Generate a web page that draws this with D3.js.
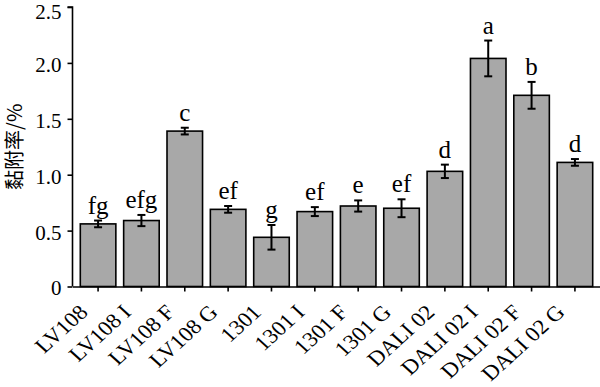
<!DOCTYPE html>
<html lang="zh">
<head>
<meta charset="UTF-8">
<title>黏附率</title>
<script src="https://d3js.org/d3.v7.min.js"></script>
<style>
    body { margin: 0; background: #fff; }
    svg { display: block; }
    .axis path, .axis line { stroke: #000; stroke-width: 1.6; }
    .serif { font-family: "Liberation Serif", "DejaVu Serif", serif; fill: #000; }
</style>
</head>
<body>
<svg width="600" height="387"></svg>
<script>
    // 数据
    const strains = ["LV108", "LV108 I", "LV108 F", "LV108 G", "1301", "1301 I", "1301 F", "1301 G",
                     "DALI 02", "DALI 02 I", "DALI 02 F", "DALI 02 G"];
    const rates = [0.56, 0.59, 1.39, 0.69, 0.44, 0.67, 0.72, 0.70, 1.03, 2.04, 1.71, 1.11];
    const errs = [0.03, 0.05, 0.03, 0.03, 0.11, 0.04, 0.05, 0.08, 0.06, 0.16, 0.12, 0.03];
    const groups = ["fg", "efg", "c", "ef", "g", "ef", "e", "ef", "d", "a", "b", "d"];
    const yTicks = [0, 0.5, 1.0, 1.5, 2.0, 2.5];

    const svg = d3.select("svg");
    const mLeft = 72.5, mRight = 600.5, mTop = 7, mBottom = 286.5;

    const x = d3.scaleBand().domain(strains).range([mLeft, mRight]).padding(0.18);
    const y = d3.scaleLinear().domain([0, 2.5]).range([mBottom, mTop]);

    // 柱子
    svg.append("g").selectAll("rect")
        .data(strains)
        .join("rect")
        .attr("x", d => x(d))
        .attr("width", x.bandwidth())
        .attr("y", (d, i) => y(rates[i]))
        .attr("height", (d, i) => y(0) - y(rates[i]))
        .attr("fill", "#a8a8a8")
        .attr("stroke", "#000")
        .attr("stroke-width", 1.6);

    // 误差线
    const eb = svg.append("g").attr("stroke", "#000").attr("stroke-width", 2);
    strains.forEach((d, i) => {
        const cx = x(d) + x.bandwidth() / 2;
        const y1 = y(rates[i] + errs[i]), y2 = y(rates[i] - errs[i]);
        eb.append("line").attr("x1", cx).attr("x2", cx).attr("y1", y1).attr("y2", y2);
        eb.append("line").attr("x1", cx - 4).attr("x2", cx + 4).attr("y1", y1).attr("y2", y1);
        eb.append("line").attr("x1", cx - 4).attr("x2", cx + 4).attr("y1", y2).attr("y2", y2);
    });

    // 显著性字母
    svg.append("g").selectAll("text")
        .data(strains)
        .join("text")
        .attr("class", "serif")
        .attr("x", d => x(d) + x.bandwidth() / 2)
        .attr("y", (d, i) => y(rates[i] + errs[i]) - 7)
        .attr("text-anchor", "middle")
        .style("font-size", "25px")
        .text((d, i) => groups[i]);

    // y 轴
    svg.append("g")
        .attr("class", "axis")
        .attr("transform", `translate(${mLeft},0)`)
        .call(d3.axisLeft(y).tickValues(yTicks).tickSize(5).tickPadding(6)
            .tickFormat(d => d === 0 ? "0" : d3.format(".1f")(d)))
        .call(g => g.selectAll("text").attr("class", "serif")
            .attr("dy", d => d === 2.5 ? "0.55em" : "0.4em")
            .style("font-size", "21px"))
        .call(g => g.select(".domain").attr("d", `M-5,${mTop}H0V${mBottom}`));

    // x 轴（原图略有横向拉伸）
    svg.append("g")
        .attr("class", "axis")
        .attr("transform", `translate(0,${mBottom})`)
        .call(d3.axisBottom(x).tickSize(5).tickSizeOuter(0))
        .call(g => g.selectAll("text")
            .attr("class", "serif")
            .style("font-size", "21px")
            .attr("text-anchor", "end")
            .attr("x", 0).attr("y", 0).attr("dy", 0)
            .attr("transform", "translate(-9,27) scale(1.1,1) rotate(-45)"));

    // y 轴标题
    svg.append("text")
        .attr("transform", `translate(22,${(mTop + mBottom) / 2}) rotate(-90)`)
        .attr("text-anchor", "middle")
        .style("font-family", "'Noto Sans CJK SC', sans-serif")
        .style("font-size", "20px")
        .text("黏附率/%");
</script>
</body>
</html>
